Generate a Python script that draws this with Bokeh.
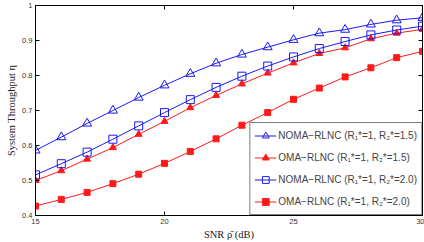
from bokeh.plotting import figure
from bokeh.models import LinearAxis, FixedTicker, Range1d, Legend
from bokeh.embed import file_html
from bokeh.resources import INLINE

snr_db = list(range(15, 31))

noma_15 = [0.586, 0.624, 0.663, 0.700, 0.737, 0.772, 0.805, 0.835,
           0.860, 0.881, 0.902, 0.921, 0.931, 0.946, 0.958, 0.965]
oma_15 = [0.500, 0.528, 0.561, 0.594, 0.632, 0.669, 0.708, 0.743,
          0.776, 0.807, 0.836, 0.863, 0.879, 0.905, 0.921, 0.932]
noma_20 = [0.516, 0.548, 0.581, 0.618, 0.656, 0.694, 0.731, 0.766,
           0.798, 0.827, 0.853, 0.877, 0.897, 0.916, 0.930, 0.941]
oma_20 = [0.427, 0.446, 0.466, 0.491, 0.518, 0.549, 0.583, 0.619,
          0.658, 0.694, 0.732, 0.764, 0.796, 0.822, 0.851, 0.869]

labels = [
    "NOMA\u2212RLNC (R\u2081*=1, R\u2082*=1.5)",
    "OMA\u2212RLNC (R\u2081*=1, R\u2082*=1.5)",
    "NOMA\u2212RLNC (R\u2081*=1, R\u2082*=2.0)",
    "OMA\u2212RLNC (R\u2081*=1, R\u2082*=2.0)",
]
x_ticks = [15, 20, 25, 30]
y_ticks = [0.4, 0.5, 0.6, 0.7, 0.8, 0.9, 1.0]

BLUE = "#1a1aee"
RED = "#ff1a1a"

p = figure(width=424, height=242, output_backend="svg", toolbar_location=None,
           x_range=Range1d(15, 30), y_range=Range1d(0.4, 1.0),
           min_border_left=35, min_border_right=2, min_border_top=5,
           min_border_bottom=23)
p.background_fill_color = "white"
p.border_fill_color = "white"
p.outline_line_color = "black"
p.outline_line_width = 1
p.grid.visible = False

tick_font = "Liberation Sans"
serif = "Liberation Serif"

for ax in p.xaxis + p.yaxis:
    ax.major_tick_in = 4
    ax.major_tick_out = 0
    ax.minor_tick_in = 0
    ax.minor_tick_out = 0
    ax.axis_line_color = "black"
    ax.major_label_text_font = tick_font
    ax.major_label_text_font_size = "7.5px"
    ax.major_label_text_color = "#333333"
    ax.axis_label_text_font = serif
    ax.axis_label_text_font_style = "normal"
    ax.axis_label_text_font_size = "10.5px"
    ax.axis_label_text_color = "#222222"

p.xaxis.ticker = FixedTicker(ticks=x_ticks)
p.yaxis.ticker = FixedTicker(ticks=y_ticks)
p.xaxis.major_label_overrides = {15: "15", 20: "20", 25: "25", 30: "30"}
p.yaxis.major_label_overrides = {0.4: "0.4", 0.5: "0.5", 0.6: "0.6", 0.7: "0.7",
                                 0.8: "0.8", 0.9: "0.9", 1.0: "1"}
p.xaxis.axis_label = "SNR \u03c1\u0304 (dB)"
p.yaxis.axis_label = "System Throughput \u03b7"
p.xaxis.major_label_standoff = 3
p.yaxis.major_label_standoff = 3
p.xaxis.axis_label_standoff = 2
p.yaxis.axis_label_standoff = 2

# box ticks on the top and right edges
for place in ("above", "right"):
    ax = LinearAxis(ticker=FixedTicker(ticks=x_ticks if place == "above" else y_ticks),
                    major_tick_in=4, major_tick_out=0, minor_tick_in=0,
                    minor_tick_out=0, major_label_text_font_size="0px",
                    major_label_standoff=0)
    p.add_layout(ax, place)

series = [
    (noma_15, BLUE, "triangle", 9, False),
    (oma_15, RED, "triangle", 7, True),
    (noma_20, BLUE, "square", 8, False),
    (oma_20, RED, "square", 6, True),
]

items = []
for (ys, col, marker, size, filled), lab in zip(series, labels):
    ln = p.line(snr_db, ys, line_color=col, line_width=1)
    sc = p.scatter(snr_db, ys, marker=marker, size=size, line_color=col,
                   line_width=1,
                   fill_color=col if filled else None)
    items.append((lab, [ln, sc]))

legend = Legend(items=items, location="bottom_right", margin=0,
                padding=4, spacing=5, glyph_width=22, glyph_height=17,
                label_text_font=tick_font, label_text_font_size="10px",
                label_standoff=2, border_line_color="black",
                border_line_width=1.2, background_fill_alpha=1)
p.add_layout(legend, "center")

open("out.html", "w").write(file_html(p, INLINE))
